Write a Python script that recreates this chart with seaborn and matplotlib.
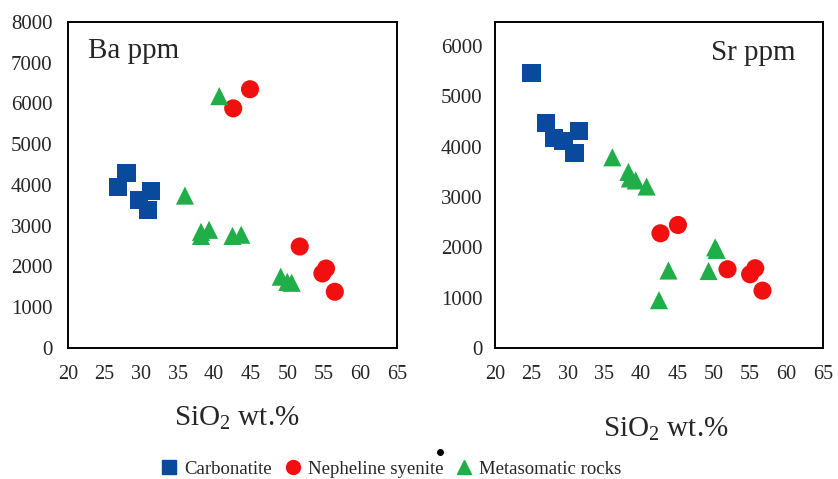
import numpy as np
import pandas as pd
import matplotlib
matplotlib.use("Agg")
import matplotlib.pyplot as plt
from matplotlib.lines import Line2D
from matplotlib.ticker import MultipleLocator
import seaborn as sns

# SiO2 (wt.%) vs Ba (ppm)
BA_CARB_SIO2 = [26.9, 28.0, 29.7, 31.3, 30.9]
BA_CARB_VAL = [3960, 4290, 3630, 3850, 3390]
BA_NEPH_SIO2 = [44.9, 42.6, 51.7, 55.3, 54.8, 56.5]
BA_NEPH_VAL = [6350, 5880, 2490, 1950, 1830, 1380]
BA_META_SIO2 = [40.7, 36.0, 38.2, 39.3, 38.2, 42.5, 43.7, 49.1, 50.0, 50.6]
BA_META_VAL = [6180, 3740, 2850, 2900, 2750, 2750, 2780, 1750, 1620, 1600]

# SiO2 (wt.%) vs Sr (ppm)
SR_CARB_SIO2 = [25.0, 27.0, 28.1, 29.4, 31.5, 30.9]
SR_CARB_VAL = [5460, 4480, 4170, 4120, 4310, 3880]
SR_NEPH_SIO2 = [42.7, 45.1, 51.9, 55.0, 55.7, 56.7]
SR_NEPH_VAL = [2280, 2445, 1565, 1465, 1585, 1140]
SR_META_SIO2 = [36.1, 38.3, 38.5, 39.3, 40.8, 50.2, 50.4, 43.8, 49.3, 42.5]
SR_META_VAL = [3790, 3500, 3370, 3330, 3210, 2000, 1950, 1540, 1530, 950]

GROUPS = ["Carbonatite", "Nepheline syenite", "Metasomatic rocks"]
PALETTE = {"Carbonatite": "#0a4a9c", "Nepheline syenite": "#f20f0f",
           "Metasomatic rocks": "#1fae48"}
MARKERS = {"Carbonatite": "s", "Nepheline syenite": "o", "Metasomatic rocks": "^"}


def make_frame(carb, neph, meta):
    rows = []
    for name, (xs, ys) in zip(GROUPS, [carb, neph, meta]):
        for x, y in zip(xs, ys):
            rows.append({"SiO2": x, "val": y, "rock": name})
    return pd.DataFrame(rows)


ba = make_frame((BA_CARB_SIO2, BA_CARB_VAL), (BA_NEPH_SIO2, BA_NEPH_VAL),
                (BA_META_SIO2, BA_META_VAL))
sr = make_frame((SR_CARB_SIO2, SR_CARB_VAL), (SR_NEPH_SIO2, SR_NEPH_VAL),
                (SR_META_SIO2, SR_META_VAL))

sns.set_theme(style="white")
plt.rcParams["font.family"] = ["Liberation Serif", "DejaVu Serif"]
plt.rcParams["mathtext.fontset"] = "custom"
plt.rcParams["mathtext.rm"] = "Liberation Serif"

fig = plt.figure(figsize=(8.38, 4.79), dpi=100)
ax1 = fig.add_axes([0.0811, 0.2735, 0.3926, 0.6806])
ax2 = fig.add_axes([0.5907, 0.2735, 0.3914, 0.6806])


def draw(ax, df, ymax, label, label_xy, xlab_xy, ypad):
    sns.scatterplot(data=df, x="SiO2", y="val", hue="rock", style="rock",
                    palette=PALETTE, markers=MARKERS, s=170, linewidth=0,
                    legend=False, ax=ax)
    ax.set_xlim(20, 65)
    ax.set_ylim(0, ymax)
    ax.xaxis.set_major_locator(MultipleLocator(5))
    ax.xaxis.set_minor_locator(MultipleLocator(2.5))
    ax.yaxis.set_major_locator(MultipleLocator(1000))
    ax.yaxis.set_minor_locator(MultipleLocator(500))
    ax.tick_params(which="both", direction="in", length=4, width=0.8,
                   color="#555555")
    ax.tick_params(which="minor", length=3)
    ax.tick_params(axis="x", which="both", top=False, labelsize=14.5, pad=12)
    ax.tick_params(axis="y", which="both", right=False, labelsize=15, pad=ypad)
    for sp in ax.spines.values():
        sp.set_color("black")
        sp.set_linewidth(1.4)
    ax.set_xlabel("")
    ax.set_ylabel("")
    ax.text(label_xy[0], label_xy[1], label, transform=ax.transAxes,
            fontsize=21, va="center", ha="left")
    ax.text(xlab_xy[0], xlab_xy[1], r"SiO$_2$ wt.%", transform=ax.transAxes,
            fontsize=21, ha="center", va="center")


draw(ax1, ba, 8000, "Ba ppm", (0.06, 0.91), (0.512, -0.215), 11)
draw(ax2, sr, 6480, "Sr ppm", (0.66, 0.905), (0.52, -0.25), 9)

# stray dot present in the original figure
fig.add_artist(Line2D([0.525], [0.056], marker="o", markersize=4,
                      color="black", linestyle="none",
                      transform=fig.transFigure))

handles = [Line2D([], [], linestyle="none", marker=MARKERS[g], color=PALETTE[g],
                  markersize=10, label=g) for g in GROUPS]
fig.legend(handles=handles, loc="center", bbox_to_anchor=(0.467, 0.02),
           ncol=3, frameon=False, fontsize=13.5, handletextpad=0.4,
           columnspacing=0.7, handlelength=0.8)

fig.savefig("out.png", dpi=100)
